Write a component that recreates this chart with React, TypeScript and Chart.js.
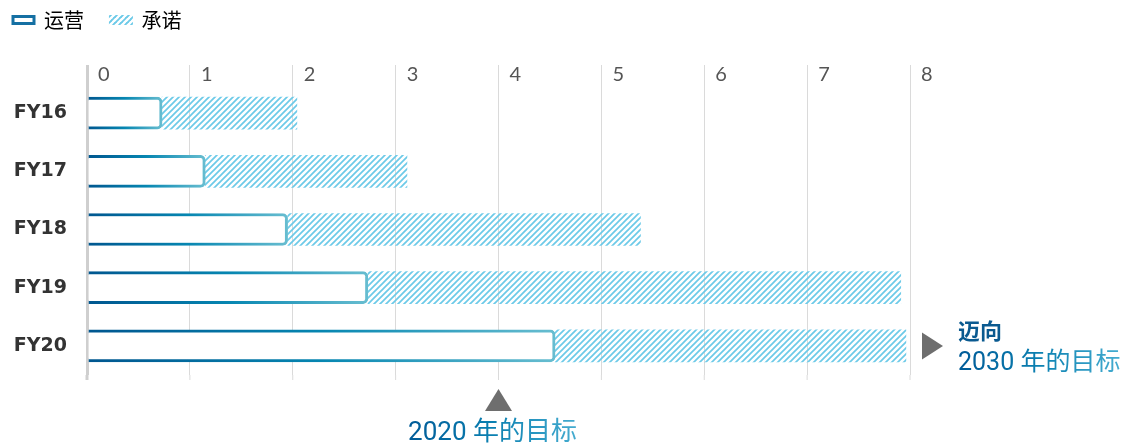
import React, { useEffect, useRef } from 'react';
import { Chart, registerables } from 'chart.js';

Chart.register(...registerables);

// ---- data ----
const categories = ['FY16', 'FY17', 'FY18', 'FY19', 'FY20'];
const operations = [0.73, 1.15, 1.95, 2.73, 4.55];
const commitments = [2.04, 3.11, 5.38, 7.91, 7.96];
const xMin = 0;
const xMax = 8;
const xStep = 1;
const legendLabels = ['运营', '承诺'];
const target2020Value = 4;
const target2020Label = '2020 年的目标';
const target2030Lead = '迈向';
const target2030Label = '2030 年的目标';

// ---- styles ----
const CJK = '"Noto Sans CJK SC", sans-serif';
const NUM = 'Roboto, "Noto Sans CJK SC", sans-serif';
const HATCH_COLOR = '#6ccae8';
const BLUE_STOPS: [number, string][] = [
  [0, '#00568f'],
  [0.5, '#0686b1'],
  [1, '#67bdd0'],
];
const TEXT_STOPS: [number, string][] = [
  [0, '#005a97'],
  [0.5, '#0b80b1'],
  [1, '#45acd0'],
];
const ARROW_COLOR = '#6e6e6e';

function makeHatch(color: string): CanvasPattern | string {
  const s = 6;
  const c = document.createElement('canvas');
  c.width = s;
  c.height = s;
  const g = c.getContext('2d');
  if (!g) return color;
  g.strokeStyle = color;
  g.lineWidth = 1.7;
  g.beginPath();
  g.moveTo(0, s);
  g.lineTo(s, 0);
  g.moveTo(-1, 1);
  g.lineTo(1, -1);
  g.moveTo(s - 1, s + 1);
  g.lineTo(s + 1, s - 1);
  g.stroke();
  return g.createPattern(c, 'repeat') || color;
}

function gradientText(
  ctx: CanvasRenderingContext2D,
  text: string,
  x: number,
  y: number,
  align: CanvasTextAlign
) {
  const w = ctx.measureText(text).width;
  const left = align === 'center' ? x - w / 2 : x;
  const g = ctx.createLinearGradient(left, 0, left + w, 0);
  TEXT_STOPS.forEach(([o, c]) => g.addColorStop(o, c));
  ctx.textAlign = align;
  ctx.fillStyle = g;
  ctx.fillText(text, x, y);
}

const targetsPlugin = {
  id: 'targets',
  beforeDatasetsDraw(chart: any) {
    // extend the vertical grid lines a little below the plot area
    const { ctx, chartArea: area, scales } = chart;
    const xs = scales.x;
    if (!area || !xs) return;
    ctx.save();
    xs.ticks.forEach((t: any, i: number) => {
      const px = xs.getPixelForValue(t.value);
      ctx.strokeStyle = i === 0 ? '#cfcfcf' : '#dadada';
      ctx.lineWidth = i === 0 ? 3 : 1;
      ctx.beginPath();
      ctx.moveTo(px, area.bottom);
      ctx.lineTo(px, area.bottom + 5);
      ctx.stroke();
    });
    ctx.restore();
  },
  afterDraw(chart: any) {
    const { ctx, chartArea: area, scales } = chart;
    const xs = scales.x;
    const ys = scales.y;
    if (!area || !xs || !ys) return;
    ctx.save();
    // 2020 target marker (below axis)
    const tx = xs.getPixelForValue(target2020Value);
    const ty = area.bottom + 14;
    ctx.fillStyle = ARROW_COLOR;
    ctx.beginPath();
    ctx.moveTo(tx, ty);
    ctx.lineTo(tx + 13.5, ty + 22);
    ctx.lineTo(tx - 13.5, ty + 22);
    ctx.closePath();
    ctx.fill();
    ctx.font = `26px ${NUM}`;
    ctx.textBaseline = 'middle';
    gradientText(ctx, target2020Label, tx - 6, ty + 44, 'center');

    // 2030 target marker (right side)
    const rx = xs.getPixelForValue(xMax) + 12;
    const ry = ys.getPixelForValue(categories.length - 1);
    ctx.fillStyle = ARROW_COLOR;
    ctx.beginPath();
    ctx.moveTo(rx, ry - 13.5);
    ctx.lineTo(rx + 21, ry);
    ctx.lineTo(rx, ry + 13.5);
    ctx.closePath();
    ctx.fill();
    ctx.font = `bold 22px ${CJK}`;
    ctx.fillStyle = '#0a5a90';
    ctx.textAlign = 'left';
    ctx.fillText(target2030Lead, rx + 36, ry - 15);
    ctx.font = `25px ${NUM}`;
    gradientText(ctx, target2030Label, rx + 36, ry + 18, 'left');
    ctx.restore();
  },
};

export default function App() {
  const ref = useRef<HTMLCanvasElement | null>(null);

  useEffect(() => {
    document.body.style.margin = '0';
    const canvas = ref.current;
    if (!canvas) return;
    const hatch = makeHatch(HATCH_COLOR);

    const opsBorder = (c: any) => {
      const chart = c.chart;
      const xs = chart.scales?.x;
      if (!chart.chartArea || !xs || c.dataIndex == null) return BLUE_STOPS[1][1];
      const x0 = xs.getPixelForValue(xMin);
      const x1 = xs.getPixelForValue(operations[c.dataIndex]);
      if (!isFinite(x0) || !isFinite(x1) || x1 <= x0) return BLUE_STOPS[1][1];
      const g = chart.ctx.createLinearGradient(x0, 0, x1, 0);
      BLUE_STOPS.forEach(([o, col]) => g.addColorStop(o, col));
      return g;
    };

    const chart = new Chart(canvas, {
      type: 'bar',
      data: {
        labels: categories,
        datasets: [
          {
            label: legendLabels[0],
            data: operations,
            backgroundColor: '#ffffff',
            borderColor: opsBorder,
            borderWidth: 3,
            borderSkipped: 'start',
            borderRadius: 5,
            barThickness: 32,
            grouped: false,
            order: 0,
          } as any,
          {
            label: legendLabels[1],
            data: categories.map((_, i) => [operations[i], commitments[i]]),
            backgroundColor: hatch,
            borderWidth: 0,
            barThickness: 32,
            grouped: false,
            order: 1,
          } as any,
        ],
      },
      options: {
        indexAxis: 'y',
        animation: false,
        responsive: true,
        maintainAspectRatio: false,
        layout: { padding: { top: -3, left: 0, right: 214, bottom: 70 } },
        plugins: {
          tooltip: { enabled: false },
          legend: {
            position: 'top',
            align: 'start',
            labels: {
              boxWidth: 21,
              boxHeight: 7,
              padding: 13,
              color: '#555555',
              font: { family: CJK, size: 20 },
              generateLabels: () => [
                {
                  text: legendLabels[0] + '   ',
                  fillStyle: '#ffffff',
                  strokeStyle: '#1570a3',
                  lineWidth: 3,
                  datasetIndex: 0,
                  hidden: false,
                },
                {
                  text: legendLabels[1],
                  fillStyle: hatch as any,
                  strokeStyle: hatch as any,
                  lineWidth: 3,
                  datasetIndex: 1,
                  hidden: false,
                },
              ],
            },
          },
        },
        scales: {
          x: {
            position: 'top',
            min: xMin,
            max: xMax,
            ticks: {
              stepSize: xStep,
              align: 'start',
              labelOffset: 11,
              padding: -22,
              color: '#555555',
              font: { family: 'Lato, sans-serif', size: 20, weight: '400' as any },
            },
            grid: {
              color: (c: any) => (c.index === 0 ? '#cfcfcf' : '#dadada'),
              lineWidth: (c: any) => (c.index === 0 ? 3 : 1),
              tickLength: 19,
              drawTicks: true,
            },
            border: { display: false },
            afterFit: (s: any) => {
              s.height = 44;
            },
          },
          y: {
            ticks: {
              color: '#333333',
              padding: 20,
              font: { family: '"DejaVu Sans", sans-serif', size: 19, weight: 'bold' },
            },
            grid: { display: false, drawTicks: false },
            border: { display: false },
            afterFit: (s: any) => {
              s.width = 87;
            },
          },
        },
      },
      plugins: [targetsPlugin],
    });

    return () => chart.destroy();
  }, []);

  return (
    <div style={{ width: 1124, height: 445, position: 'relative' }}>
      <canvas ref={ref} />
    </div>
  );
}
